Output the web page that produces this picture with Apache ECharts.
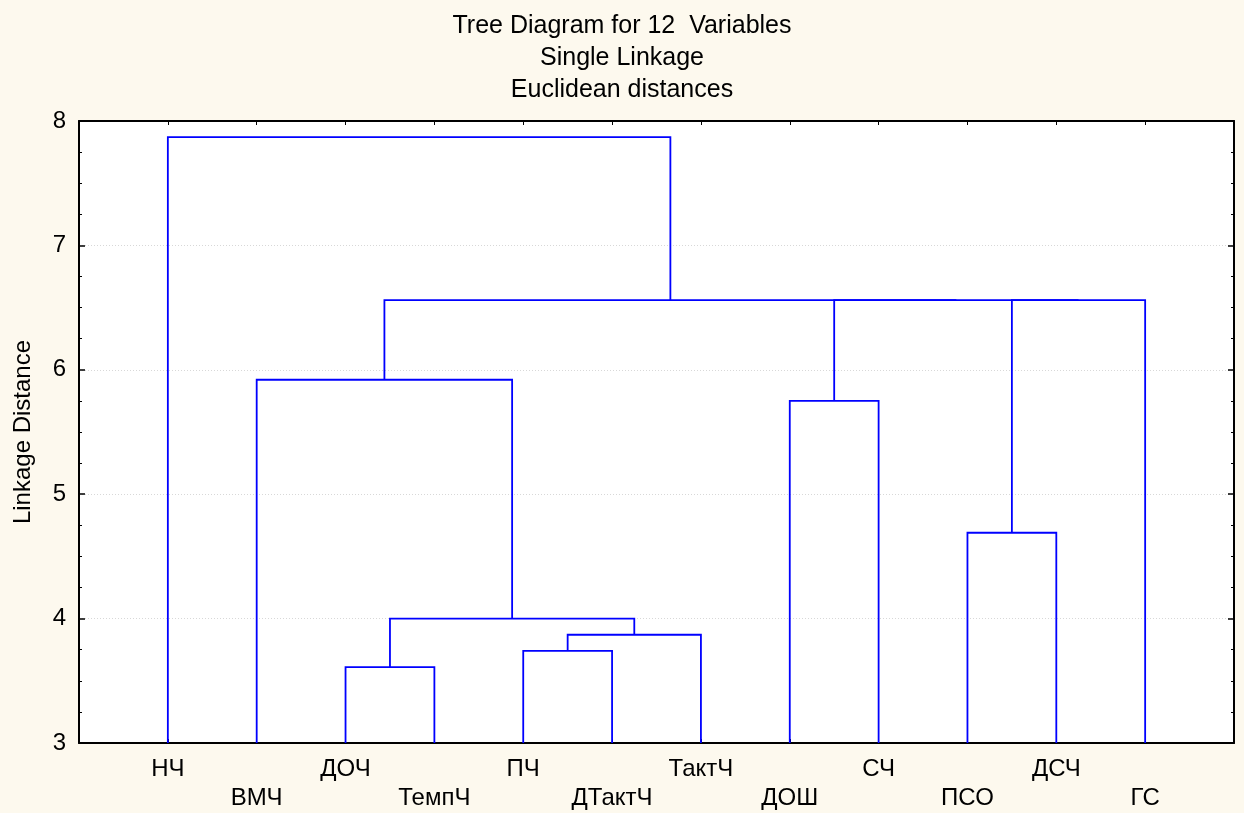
<!DOCTYPE html>
<html>
<head>
<meta charset="utf-8">
<script src="https://cdn.jsdelivr.net/npm/echarts@6/dist/echarts.min.js"></script>
<style>
  html, body { margin: 0; padding: 0; background: #fdf9ee; }
  #chart { width: 1244px; height: 813px; }
</style>
</head>
<body>
<div id="chart"></div>
<script>
// leaf order as drawn on the x axis
const leaves = ['НЧ', 'ВМЧ', 'ДОЧ', 'ТемпЧ', 'ПЧ', 'ДТактЧ', 'ТактЧ', 'ДОШ', 'СЧ', 'ПСО', 'ДСЧ', 'ГС']

// merges: [left, right, linkage distance]; ids 0..11 are leaves, 12+ are earlier merges
const mergeLeft = [2, 4, 13, 12, 9, 7, 1, 16, 17, 18, 0]
const mergeRight = [3, 5, 6, 14, 10, 8, 15, 11, 19, 20, 21]
const mergeHeight = [3.61, 3.74, 3.87, 4.00, 4.69, 5.75, 5.92, 6.56, 6.56, 6.56, 7.87]

const yTicks = [3, 4, 5, 6, 7, 8]

// node positions: leaf i sits at i + 1, clusters at the midpoint of their children
const nodeX = leaves.map((_, i) => i + 1)
const nodeH = leaves.map(() => yTicks[0])
const links = []
mergeHeight.forEach((h, k) => {
  const a = mergeLeft[k]
  const b = mergeRight[k]
  links.push([nodeX[a], nodeH[a], nodeX[b], nodeH[b], h])
  nodeX.push((nodeX[a] + nodeX[b]) / 2)
  nodeH.push(h)
})

const chart = echarts.init(document.getElementById('chart'))
const font = 'Liberation Sans, Arial, sans-serif'

const xCommon = {
  type: 'value',
  min: 0,
  max: leaves.length + 1,
  interval: 1,
  splitLine: { show: false },
  axisLine: { show: true, onZero: false, lineStyle: { color: '#000', width: 2 } },
  axisTick: {
    show: true,
    inside: true,
    length: 4,
    lineStyle: { color: '#000', width: 1 },
    customValues: nodeX.slice(0, leaves.length)
  }
}

const yCommon = {
  type: 'value',
  min: yTicks[0],
  max: yTicks[yTicks.length - 1],
  interval: 1,
  axisLine: { show: true, onZero: false, lineStyle: { color: '#000', width: 2 } },
  axisTick: { show: true, inside: true, length: 6, lineStyle: { color: '#000', width: 1.5 } },
  minorTick: { show: true, splitNumber: 4, length: 3, lineStyle: { color: '#000', width: 1 } }
}

chart.setOption({
  backgroundColor: '#fdf9ee',
  animation: false,
  title: {
    text: 'Tree Diagram for 12  Variables\nSingle Linkage\nEuclidean distances',
    left: 'center',
    top: 5,
    textStyle: { fontFamily: font, fontSize: 25, fontWeight: 'normal', color: '#000', lineHeight: 32 }
  },
  grid: {
    left: 79, right: 10, top: 121, bottom: 70,
    containLabel: false,
    outerBoundsMode: 'none',
    show: true, backgroundColor: '#fff', borderWidth: 0
  },
  xAxis: [
    Object.assign({}, xCommon, {
      position: 'bottom',
      axisLabel: {
        show: true,
        margin: 12,
        fontFamily: font,
        fontSize: 24,
        color: '#000',
        lineHeight: 29,
        formatter: v => {
          const i = Math.round(v) - 1
          if (i < 0 || i >= leaves.length) return ''
          return i % 2 === 0 ? leaves[i] : '\n' + leaves[i]
        }
      }
    }),
    Object.assign({}, xCommon, { position: 'top', axisLabel: { show: false } })
  ],
  yAxis: [
    Object.assign({}, yCommon, {
      position: 'left',
      name: 'Linkage Distance',
      nameLocation: 'middle',
      nameGap: 44,
      nameTextStyle: { fontFamily: font, fontSize: 24, color: '#000' },
      axisLabel: { fontFamily: font, fontSize: 24, color: '#000', margin: 13 },
      splitLine: { show: true, lineStyle: { color: '#d8d8d8', type: [1, 2], width: 1 } }
    }),
    Object.assign({}, yCommon, {
      position: 'right',
      axisLabel: { show: false },
      splitLine: { show: false }
    })
  ],
  series: [{
    type: 'custom',
    xAxisIndex: 0,
    yAxisIndex: 0,
    data: links,
    silent: true,
    renderItem: (params, api) => {
      const p1 = api.coord([api.value(0), api.value(1)])
      const p2 = api.coord([api.value(0), api.value(4)])
      const p3 = api.coord([api.value(2), api.value(4)])
      const p4 = api.coord([api.value(2), api.value(3)])
      return {
        type: 'polyline',
        shape: { points: [p1, p2, p3, p4] },
        style: { stroke: '#0000ff', lineWidth: 1.8, fill: null }
      }
    }
  }]
})
</script>
</body>
</html>
